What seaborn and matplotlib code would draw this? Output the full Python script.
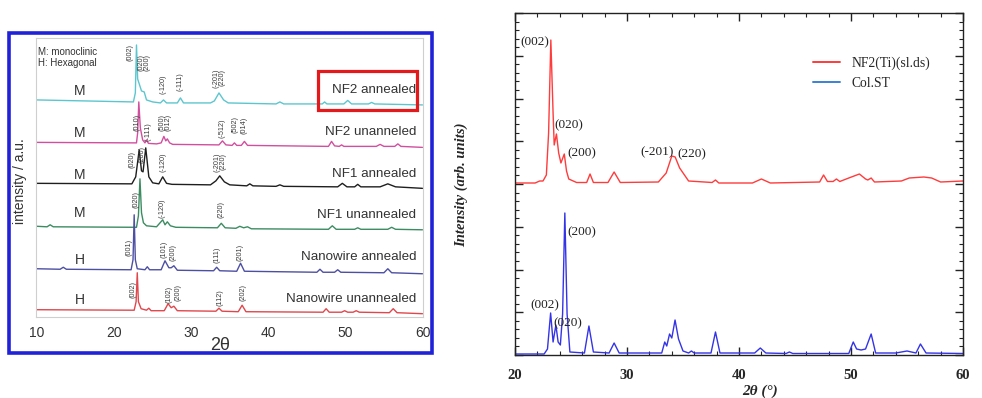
import matplotlib
matplotlib.use("Agg")
import matplotlib.pyplot as plt
from matplotlib.patches import Rectangle
from matplotlib.lines import Line2D
from matplotlib.ticker import MultipleLocator, NullFormatter
import pandas as pd
import seaborn as sns

sns.set_theme(style="white")
plt.rcParams["font.family"] = ["Liberation Sans", "DejaVu Sans"]

# ---------------- left panel: six stacked XRD patterns ----------------
two_theta_nf2_ann = [10, 22.5, 22.75, 22.9, 23.05, 23.3, 23.55, 23.9, 24.2, 25, 26.0, 26.4, 26.8, 28.2, 28.6,
                     29.0, 32.5, 33.0, 33.6, 34.2, 34.8, 41.0, 41.5, 42.0, 47.0, 47.3, 47.6, 49.8, 50.3, 50.8,
                     53.0, 53.4, 53.8, 60]
counts_nf2_ann = [5, 3, 12, 60, 26, 20, 14, 13, 5, 3, 2, 5, 2, 2, 7,
                  2, 2, 4, 12, 5, 2, 1, 3, 1, 1, 3, 1, 1, 4.5, 1,
                  1, 2.5, 1, 0]

two_theta_nf2_unann = [10, 22.9, 23.05, 23.2, 23.4, 23.7, 24.0, 24.2, 24.45, 25.5, 26.1, 26.45, 26.7, 26.9, 27.2,
                       27.6, 33.6, 34.05, 34.5, 35.3, 35.6, 35.9, 36.5, 36.9, 37.3, 47.8, 48.2, 48.6, 49.2, 49.5,
                       49.8, 54.0, 54.5, 55.0, 56.4, 56.8, 57.2, 60]
counts_nf2_unann = [5.5, 5, 15, 46, 20, 8, 5, 8, 4.5, 4, 5, 11.5, 7, 9, 5,
                    3.5, 3, 7, 3, 2.5, 5, 2.5, 2.5, 6.5, 2.5, 1.5, 6.5, 2, 1.5, 3,
                    1.5, 1.5, 3.5, 1.5, 1.5, 4, 1.5, 0.5]

two_theta_nf1_ann = [10, 22.3, 22.8, 23.25, 23.55, 23.75, 24.1, 24.5, 25.0, 25.8, 26.3, 26.8, 27.5, 32.5, 33.2,
                     33.7, 34.3, 35.0, 37.2, 37.6, 38.0, 41.0, 41.5, 42.0, 49.0, 49.6, 50.2, 51.2, 51.6, 52.0,
                     54.5, 55.5, 56.5, 60]
counts_nf1_ann = [5.5, 5, 12, 39, 18, 17, 41, 12, 6, 5, 12, 5.5, 4.5, 4, 8,
                  13, 7, 4, 3, 5, 3, 2.5, 4, 2.5, 2, 5.5, 2, 2, 4.5, 2,
                  2, 5, 2, 0.5]

two_theta_nf1_unann = [10, 11.3, 11.7, 12.1, 22.9, 23.15, 23.35, 23.55, 23.8, 24.2, 25.5, 26.3, 26.6, 26.9, 27.3,
                       28.0, 33.4, 33.9, 34.4, 35.8, 36.3, 36.8, 37.3, 37.8, 47.8, 48.3, 48.8, 51.2, 51.6, 52.0,
                       55.5, 56.0, 56.5, 60]
counts_nf1_unann = [4.5, 4, 6, 4, 3.5, 15, 52, 18, 8, 5, 4, 11, 6, 9, 5,
                    3.5, 3, 7.5, 3, 2.5, 4.5, 3, 4, 2, 1.5, 5, 1.5, 1.5, 3, 1.5,
                    1.5, 3.5, 1.5, 1]

two_theta_nw_ann = [10, 13.0, 13.4, 13.8, 22.2, 22.45, 22.6, 22.75, 23.0, 24.0, 24.3, 24.6, 26.1, 26.6, 27.1,
                    27.4, 27.75, 28.2, 32.9, 33.3, 33.7, 35.9, 36.4, 36.9, 46.3, 46.7, 47.1, 48.6, 49.0, 49.4,
                    55.0, 55.5, 56.0, 60]
counts_nw_ann = [5, 4.5, 6.5, 4.5, 4, 14, 59, 14, 5, 4, 7, 4, 4, 13, 6,
                 6, 8, 3.5, 3, 6.5, 3, 2.5, 10.5, 2.5, 1.5, 4.5, 1.5, 1.5, 4, 1.5,
                 1, 5, 1, 0]

two_theta_nw_unann = [10, 22.6, 22.85, 23.0, 23.15, 23.5, 24.2, 24.5, 24.8, 26.5, 27.0, 27.4, 27.75, 28.2, 33.2,
                      33.6, 34.0, 36.1, 36.6, 37.1, 47.1, 47.5, 47.9, 49.5, 49.9, 50.3, 51.0, 51.4, 51.8, 55.7,
                      56.2, 56.7, 60]
counts_nw_unann = [4, 3.5, 12, 41, 12, 5, 3.5, 5.5, 3, 3, 10, 6, 7.5, 3, 2.5,
                   5.5, 2.5, 2, 8.5, 2, 1.5, 5, 1.5, 1.5, 3, 1.5, 1.5, 3, 1.5, 1,
                   5, 1, 0]

sample_names = ["NF2 annealed", "NF2 unanneled", "NF1 annealed", "NF1 unannealed",
                "Nanowire annealed", "Nanowire unannealed"]
phase_letters = ["M", "M", "M", "M", "H", "H"]

peak_labels = [
    [("(002)", 22.05, 264), ("(020)", 23.45, 254), ("(200)", 24.3, 254), ("(-120)", 26.3, 233),
     ("(-111)", 28.6, 235), ("(-201)", 33.25, 239), ("(220)", 34.05, 239)],
    [("(010)", 23.0, 194), ("(-111)", 24.4, 185), ("(500)", 26.25, 194), ("(012)", 27.05, 194),
     ("(-512)", 34.05, 189), ("(502)", 35.65, 192), ("(014)", 36.9, 192)],
    [("(020)", 22.27, 157), ("(200)", 23.64, 162), ("(-120)", 26.28, 155),
     ("(-201)", 33.3, 155), ("(220)", 34.1, 155)],
    [("(020)", 22.82, 117), ("(-120)", 26.23, 109), ("(220)", 33.83, 107)],
    [("(001)", 21.96, 69), ("(101)", 26.45, 67), ("(200)", 27.66, 64), ("(111)", 33.36, 62),
     ("(201)", 36.3, 64)],
    [("(002)", 22.47, 27), ("(102)", 27.14, 22), ("(200)", 28.3, 24), ("(112)", 33.7, 19),
     ("(202)", 36.72, 24)],
]

# ---------------- right panel: two XRD patterns ----------------
two_theta_ti = [20, 21.8, 22.2, 22.5, 22.8, 23.0, 23.2, 23.4, 23.5, 23.7, 23.9, 24.1, 24.4, 24.6, 24.8,
                25.5, 26.4, 26.7, 27.0, 28.3, 28.85, 29.4, 32.8, 33.5, 34.0, 34.3, 34.7, 35.5, 37.6, 37.9,
                38.2, 41.2, 42.0, 42.8, 47.2, 47.55, 47.9, 48.4, 48.7, 49.0, 49.8, 50.75, 51.3, 51.5, 51.8,
                52.1, 54.5, 55.2, 56.5, 57.2, 58.0, 60]
counts_ti = [0, 0, 2, 2, 8, 50, 143, 70, 38, 49, 30, 20, 29, 12, 4,
             0.5, 0.5, 9, 0.5, 0.5, 11, 0.5, 1, 10, 27, 26, 15, 2, 0.5, 3,
             0, 0, 4, 0, 1, 8, 1.5, 1.5, 4, 1.5, 5, 9, 4, 3, 5,
             1, 2, 5, 6, 5, 1, 2]

two_theta_st = [20, 22.6, 22.9, 23.18, 23.4, 23.65, 23.85, 24.05, 24.25, 24.45, 24.65, 24.9, 26.2, 26.6, 27.0,
                28.4, 28.85, 29.3, 33.1, 33.37, 33.55, 33.8, 34.0, 34.29, 34.6, 35.0, 35.5, 35.75, 36.0, 37.5,
                37.9, 38.3, 41.4, 41.9, 42.4, 44.2, 44.5, 44.8, 49.8, 50.2, 50.5, 50.9, 51.3, 51.8, 52.2,
                54.0, 55.0, 55.8, 56.2, 56.7, 60]
counts_st = [0, 0, 5, 41, 12, 29, 12, 9, 40, 141, 40, 2, 1, 28, 2,
             1, 11, 1, 1, 12, 8, 20, 16, 34, 15, 3, 1, 3, 1, 1,
             22, 1, 1, 6, 1, 0.5, 2, 0.5, 0.5, 12, 5, 4, 5, 20, 1,
             1, 3, 1, 10, 1, 0.5]

ti_labels = [("(002)", 21.8, 313), ("(020)", 24.8, 230), ("(200)", 25.97, 202),
             ("(-201)", 32.65, 203), ("(220)", 35.8, 201)]
st_labels = [("(002)", 22.67, 50), ("(020)", 24.72, 32), ("(200)", 25.97, 123)]
legend_names = ["NF2(Ti)(sl.ds)", "Col.ST"]

# ---------------- drawing ----------------
W, H = 982, 398
fig = plt.figure(figsize=(W / 100, H / 100), dpi=100)
fig.patch.set_facecolor("white")

def fx(px):
    return px / W

def fy(py):
    return 1 - py / H

# left panel
axL = fig.add_axes([fx(35.5), fy(316.7), fx(422.5 - 35.5), (316.7 - 38) / H])
left_series = [(two_theta_nf2_ann, counts_nf2_ann), (two_theta_nf2_unann, counts_nf2_unann),
               (two_theta_nf1_ann, counts_nf1_ann), (two_theta_nf1_unann, counts_nf1_unann),
               (two_theta_nw_ann, counts_nw_ann), (two_theta_nw_unann, counts_nw_unann)]
left_colors = ["#5cc6cf", "#d24f9f", "#1e1e1e", "#3c8c62", "#4d4fa3", "#e0474c"]
stack_offsets = [212, 169, 128, 86, 43, 3]
letter_y = [226, 184, 142, 104, 57, 17]
name_y = [227, 185, 143, 102, 60, 18]

for (tt, cc), col, off, name in zip(left_series, left_colors, stack_offsets, sample_names):
    df = pd.DataFrame({"2theta": tt, "I": [c + off for c in cc]})
    sns.lineplot(data=df, x="2theta", y="I", ax=axL, color=col, lw=1.0,
                 estimator=None, sort=False)

for labels, off in zip(peak_labels, stack_offsets):
    for txt, x, y in labels:
        axL.text(x, y, txt, rotation=90, fontsize=5.2, color="#3a3a3a",
                 ha="center", va="center")

for i in range(6):
    axL.text(15.57, letter_y[i], phase_letters[i], fontsize=10, color="#333333",
             ha="center", va="center")
    axL.text(59.2, name_y[i], sample_names[i], fontsize=9.6, color="#333333",
             ha="right", va="center")

axL.text(10.17, 265, "M: monoclinic", fontsize=7, color="#333333", ha="left", va="center")
axL.text(10.17, 254, "H: Hexagonal", fontsize=7, color="#333333", ha="left", va="center")

axL.add_patch(Rectangle((46.4, 207), 12.95, 39, fill=False, ec="#e3191c", lw=2.3,
                        clip_on=False, zorder=5))

axL.set_xlim(9.8, 60.0)
axL.set_ylim(0, 279)
axL.set_xticks([10, 20, 30, 40, 50, 60])
axL.set_yticks([])
axL.tick_params(axis="x", length=0, pad=7, labelsize=10, labelcolor="#333333")
for s in axL.spines.values():
    s.set_color("#cfcfcf")
    s.set_linewidth(0.8)
axL.set_xlabel("")
axL.set_ylabel("")
fig.text(fx(220), fy(346), "2θ", fontsize=13, color="#333333", ha="center", va="center")
fig.text(fx(20), fy(181), "intensity / a.u.", fontsize=10, color="#333333",
         rotation=90, ha="center", va="center")

fig.patches.append(Rectangle((fx(9), fy(353)), fx(432 - 9), (353 - 33) / H, fill=False,
                             ec="#1f22d8", lw=2.6, transform=fig.transFigure, figure=fig))

# right panel
serif = ["Liberation Serif", "DejaVu Serif"]
axR = fig.add_axes([fx(515), fy(355), fx(963 - 515), (355 - 13) / H])
ti_base, st_base = 172, 1
df_ti = pd.DataFrame({"2theta": two_theta_ti, "I": [c + ti_base for c in counts_ti]})
df_st = pd.DataFrame({"2theta": two_theta_st, "I": [c + st_base for c in counts_st]})
sns.lineplot(data=df_ti, x="2theta", y="I", ax=axR, color="#ff3b3b", lw=1.0, estimator=None, sort=False)
sns.lineplot(data=df_st, x="2theta", y="I", ax=axR, color="#3434e6", lw=1.0, estimator=None, sort=False)

for txt, x, y in ti_labels:
    axR.text(x, y, txt, fontsize=9.5, family=serif, color="#222222", ha="center", va="center")
for txt, x, y in st_labels:
    axR.text(x, y, txt, fontsize=9.5, family=serif, color="#222222", ha="center", va="center")

handles = [Line2D([0], [0], color="#ff3b3b", lw=1.4), Line2D([0], [0], color="#3a82d2", lw=1.4)]
axR.legend(handles, legend_names, loc="upper left",
           bbox_to_anchor=((801 - 515) / (963 - 515), 1 - 31 / 342),
           frameon=False, handlelength=2.0, handletextpad=0.8, labelspacing=0.55,
           prop={"family": serif, "size": 9.8})

axR.set_xlim(20, 60)
axR.set_ylim(0, 342)
axR.xaxis.set_major_locator(MultipleLocator(10))
axR.xaxis.set_minor_locator(MultipleLocator(2))
axR.yaxis.set_major_locator(MultipleLocator(342 / 8))
axR.yaxis.set_minor_locator(MultipleLocator(342 / 40))
axR.yaxis.set_major_formatter(NullFormatter())
axR.tick_params(which="both", direction="in", top=True, right=True, left=True, bottom=True, color="#222222")
axR.tick_params(which="major", length=6, width=1.0)
axR.tick_params(which="minor", length=3, width=0.8)
axR.tick_params(axis="x", which="major", pad=10, labelsize=10.5)
for lbl in axR.get_xticklabels():
    lbl.set_family(serif)
    lbl.set_fontweight("bold")
for s in axR.spines.values():
    s.set_color("#222222")
    s.set_linewidth(1.0)
axR.set_xlabel("")
axR.set_ylabel("")
fig.text(fx(760), fy(391), "2θ (°)", fontsize=11, family=serif, fontweight="bold",
         fontstyle="italic", ha="center", va="center")
fig.text(fx(461), fy(185), "Intensity (arb. units)", fontsize=10.5, family=serif, fontweight="bold",
         fontstyle="italic", rotation=90, ha="center", va="center")

fig.savefig("out.png", dpi=100, facecolor="white")
